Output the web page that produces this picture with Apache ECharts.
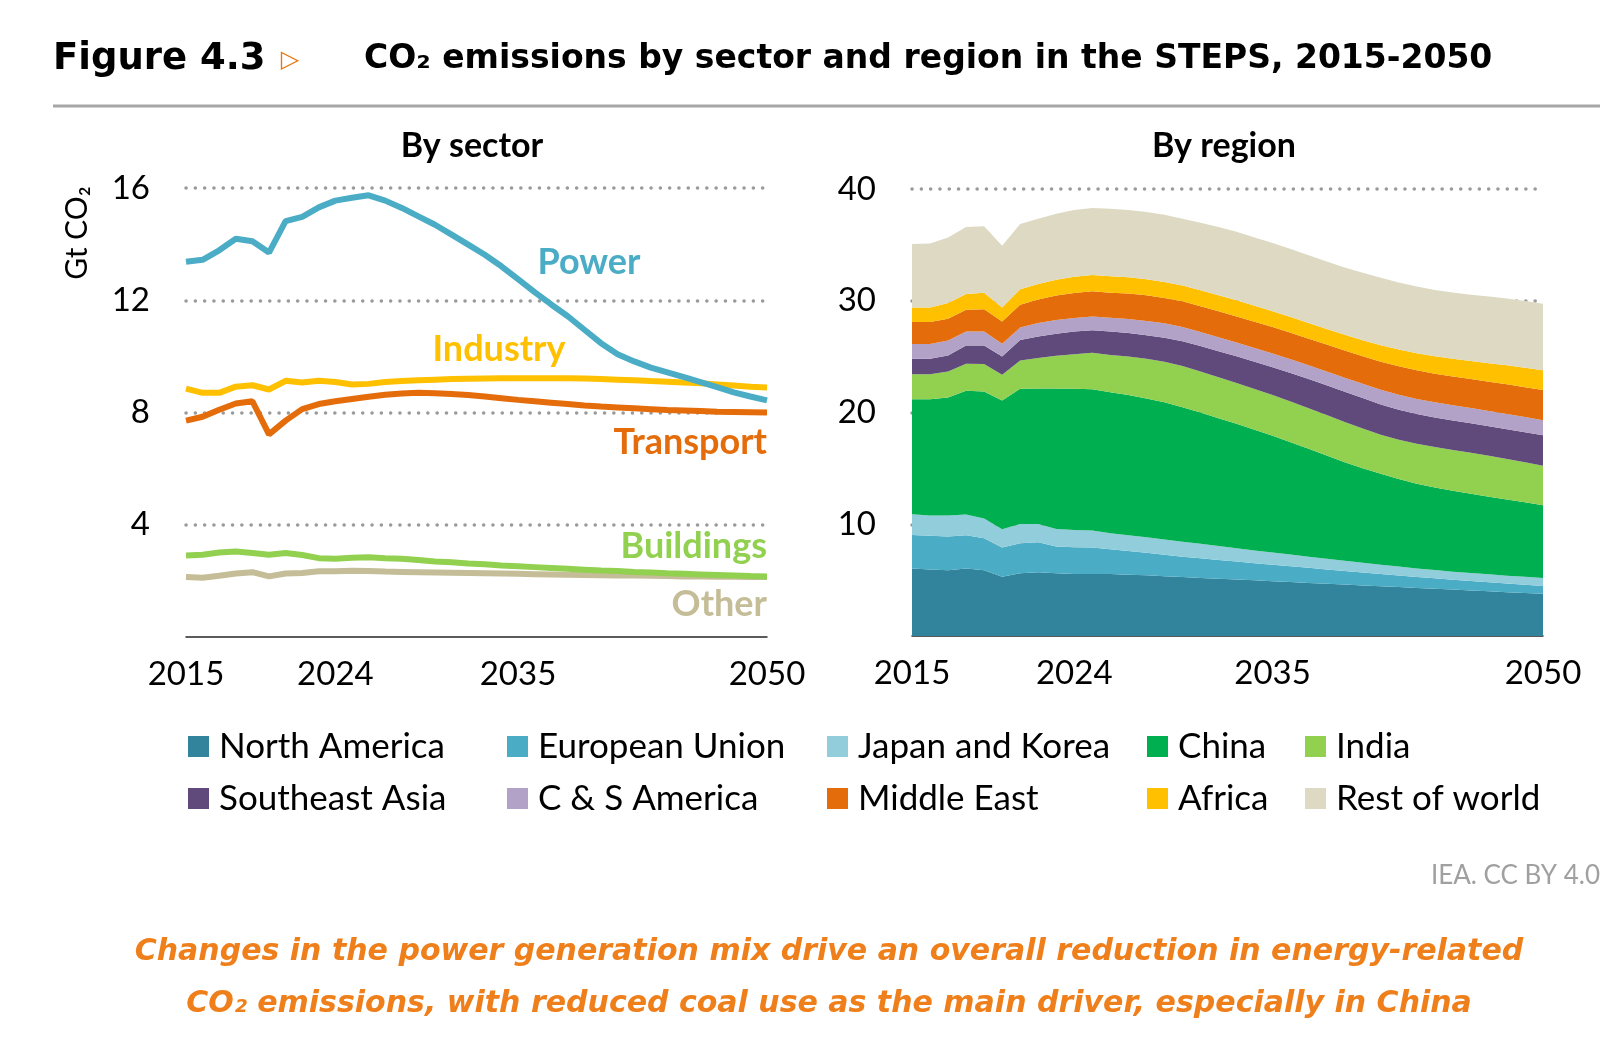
<!DOCTYPE html>
<html>
<head>
<meta charset="utf-8">
<title>CO2 emissions by sector and region in the STEPS, 2015-2050</title>
<script src="https://cdn.jsdelivr.net/npm/echarts@6/dist/echarts.min.js"></script>
<style>
  html, body { margin: 0; padding: 0; background: #fff; }
  #chart { width: 1600px; height: 1046px; }
</style>
</head>
<body>
<div id="chart"></div>
<script>
// categories
var years = ['2015', '2016', '2017', '2018', '2019', '2020', '2021', '2022', '2023', '2024',
  '2025', '2026', '2027', '2028', '2029', '2030', '2031', '2032', '2033', '2034',
  '2035', '2036', '2037', '2038', '2039', '2040', '2041', '2042', '2043', '2044',
  '2045', '2046', '2047', '2048', '2049', '2050'];
var shownYears = ['2015', '2024', '2035', '2050'];

// by sector, Gt CO2
var power = [13.37, 13.44, 13.78, 14.19, 14.10, 13.70, 14.82, 14.97, 15.31, 15.55,
  15.65, 15.74, 15.55, 15.29, 14.99, 14.69, 14.34, 13.98, 13.62, 13.21,
  12.75, 12.29, 11.85, 11.43, 10.95, 10.47, 10.08, 9.82, 9.60, 9.43,
  9.26, 9.08, 8.90, 8.72, 8.57, 8.43];
var industry = [8.85, 8.70, 8.70, 8.92, 8.97, 8.82, 9.13, 9.07, 9.13, 9.09,
  9.00, 9.02, 9.09, 9.12, 9.15, 9.17, 9.19, 9.20, 9.21, 9.22,
  9.22, 9.22, 9.22, 9.22, 9.21, 9.19, 9.17, 9.15, 9.12, 9.10,
  9.07, 9.04, 9.00, 8.96, 8.92, 8.89];
var transport = [7.71, 7.85, 8.10, 8.32, 8.40, 7.22, 7.71, 8.12, 8.30, 8.40,
  8.48, 8.56, 8.63, 8.68, 8.70, 8.69, 8.66, 8.62, 8.57, 8.51,
  8.45, 8.40, 8.35, 8.30, 8.25, 8.21, 8.18, 8.15, 8.12, 8.09,
  8.07, 8.05, 8.03, 8.02, 8.01, 8.00];
var buildings = [2.90, 2.93, 3.01, 3.05, 2.99, 2.93, 2.99, 2.92, 2.81, 2.79,
  2.82, 2.84, 2.81, 2.79, 2.74, 2.69, 2.66, 2.62, 2.59, 2.55,
  2.52, 2.49, 2.46, 2.43, 2.40, 2.37, 2.35, 2.32, 2.30, 2.27,
  2.25, 2.23, 2.21, 2.19, 2.17, 2.16];
var other = [2.14, 2.11, 2.18, 2.26, 2.31, 2.16, 2.26, 2.28, 2.34, 2.34,
  2.36, 2.35, 2.33, 2.32, 2.31, 2.30, 2.29, 2.28, 2.27, 2.26,
  2.25, 2.24, 2.23, 2.22, 2.21, 2.20, 2.19, 2.19, 2.18, 2.17,
  2.16, 2.16, 2.15, 2.15, 2.14, 2.14];

// by region, Gt CO2 (stacked)
var northAmerica = [6.03, 5.94, 5.88, 6.03, 5.88, 5.31, 5.61, 5.70, 5.61, 5.55,
  5.55, 5.55, 5.49, 5.43, 5.34, 5.28, 5.20, 5.12, 5.05, 4.98,
  4.90, 4.83, 4.75, 4.68, 4.60, 4.52, 4.45, 4.38, 4.30, 4.23,
  4.15, 4.08, 4.00, 3.92, 3.85, 3.77];
var europeanUnion = [3.01, 3.02, 3.02, 2.98, 2.87, 2.60, 2.69, 2.69, 2.39, 2.39,
  2.36, 2.21, 2.12, 2.03, 1.94, 1.82, 1.75, 1.69, 1.61, 1.54,
  1.48, 1.41, 1.35, 1.28, 1.22, 1.16, 1.10, 1.04, 0.99, 0.94,
  0.89, 0.85, 0.81, 0.77, 0.73, 0.70];
var japanKorea = [1.86, 1.82, 1.88, 1.86, 1.76, 1.64, 1.73, 1.64, 1.58, 1.55,
  1.52, 1.43, 1.40, 1.38, 1.36, 1.34, 1.30, 1.24, 1.19, 1.14,
  1.10, 1.05, 1.00, 0.96, 0.92, 0.87, 0.83, 0.79, 0.76, 0.74,
  0.72, 0.71, 0.71, 0.71, 0.72, 0.73];
var china = [10.29, 10.41, 10.56, 11.07, 11.37, 11.52, 12.09, 12.12, 12.57, 12.63,
  12.66, 12.62, 12.55, 12.42, 12.27, 12.02, 11.75, 11.44, 11.14, 10.79,
  10.43, 10.05, 9.65, 9.23, 8.81, 8.46, 8.14, 7.84, 7.58, 7.37,
  7.23, 7.09, 6.94, 6.81, 6.66, 6.50];
var india = [2.24, 2.24, 2.33, 2.42, 2.45, 2.30, 2.54, 2.72, 2.92, 3.10,
  3.25, 3.34, 3.46, 3.56, 3.64, 3.70, 3.68, 3.66, 3.65, 3.65,
  3.65, 3.64, 3.63, 3.62, 3.60, 3.56, 3.50, 3.52, 3.58, 3.63,
  3.66, 3.67, 3.66, 3.62, 3.58, 3.54];
var southeastAsia = [1.38, 1.38, 1.43, 1.64, 1.67, 1.64, 1.82, 1.94, 1.97, 2.03,
  2.03, 2.09, 2.09, 2.09, 2.15, 2.22, 2.27, 2.33, 2.39, 2.45,
  2.50, 2.56, 2.62, 2.67, 2.70, 2.72, 2.70, 2.68, 2.66, 2.65,
  2.64, 2.64, 2.66, 2.68, 2.70, 2.72];
var csAmerica = [1.31, 1.31, 1.35, 1.25, 1.25, 1.14, 1.13, 1.19, 1.23, 1.20,
  1.23, 1.23, 1.26, 1.28, 1.28, 1.28, 1.26, 1.25, 1.24, 1.23,
  1.22, 1.22, 1.22, 1.23, 1.25, 1.28, 1.31, 1.33, 1.34, 1.35,
  1.36, 1.36, 1.36, 1.35, 1.35, 1.35];
var middleEast = [1.97, 1.97, 1.94, 1.94, 2.00, 2.00, 2.03, 2.12, 2.21, 2.24,
  2.24, 2.24, 2.27, 2.30, 2.26, 2.30, 2.30, 2.32, 2.33, 2.35,
  2.37, 2.38, 2.39, 2.41, 2.44, 2.47, 2.52, 2.56, 2.57, 2.56,
  2.57, 2.59, 2.62, 2.66, 2.68, 2.70];
var africa = [1.31, 1.31, 1.40, 1.41, 1.47, 1.25, 1.40, 1.37, 1.40, 1.46,
  1.46, 1.49, 1.46, 1.43, 1.43, 1.40, 1.44, 1.45, 1.44, 1.42,
  1.40, 1.40, 1.40, 1.40, 1.41, 1.43, 1.47, 1.50, 1.53, 1.56,
  1.59, 1.62, 1.65, 1.70, 1.74, 1.78];
var restOfWorld = [5.67, 5.73, 5.88, 6.00, 5.94, 5.53, 5.83, 5.85, 5.91, 5.97,
  6.00, 6.03, 6.03, 6.03, 6.03, 5.98, 6.02, 6.10, 6.13, 6.12,
  6.11, 6.09, 6.06, 6.03, 6.03, 6.04, 6.03, 5.99, 5.96, 5.93,
  5.92, 5.93, 5.96, 5.98, 5.96, 5.95];

var sectorNames = ['Power', 'Industry', 'Transport', 'Buildings', 'Other'];
var sectorData = [power, industry, transport, buildings, other];
var sectorColors = ['#4bacc6', '#ffc000', '#e46c0a', '#92d050', '#c4bd97'];

var regionNames = ['North America', 'European Union', 'Japan and Korea', 'China', 'India',
  'Southeast Asia', 'C & S America', 'Middle East', 'Africa', 'Rest of world'];
var regionData = [northAmerica, europeanUnion, japanKorea, china, india,
  southeastAsia, csAmerica, middleEast, africa, restOfWorld];
var regionColors = ['#31849b', '#4bacc6', '#92cddc', '#00b050', '#92d050',
  '#604a7b', '#b3a2c7', '#e46c0a', '#ffc000', '#ddd9c3'];

var FONT = 'Lato, "Noto Sans", "DejaVu Sans", sans-serif';
var WIDE = '"DejaVu Sans", Lato, sans-serif';
var legendLeft = [188, 507, 827, 1147, 1305];
var legendTop = [729, 781];

var chart = echarts.init(document.getElementById('chart'), null, { renderer: 'canvas' });

function xAxisFor(gridIndex) {
  return {
    type: 'category',
    gridIndex: gridIndex,
    data: years,
    boundaryGap: false,
    axisLine: { show: true, lineStyle: { color: '#262626', width: 1.5 } },
    axisTick: { show: false },
    axisLabel: {
      interval: function (idx, val) { return shownYears.indexOf(val) >= 0; },
      margin: 21,
      fontSize: 33,
      fontFamily: FONT,
      color: '#000'
    },
    splitLine: { show: false }
  };
}

function yAxisFor(gridIndex, max, step) {
  return {
    type: 'value',
    gridIndex: gridIndex,
    min: 0,
    max: max,
    interval: step,
    axisLine: { show: false },
    axisTick: { show: false },
    axisLabel: {
      margin: 36,
      fontSize: 33,
      fontFamily: FONT,
      color: '#000',
      formatter: function (v) { return v === 0 ? '' : String(v); }
    },
    splitLine: {
      show: true,
      showMinLine: false,
      lineStyle: { color: '#9a9a9a', width: 3.5, type: [0.1, 9.2], cap: 'round' }
    }
  };
}

var series = [];
sectorNames.forEach(function (name, i) {
  series.push({
    name: name,
    type: 'line',
    xAxisIndex: 0,
    yAxisIndex: 0,
    data: sectorData[i],
    symbol: 'none',
    smooth: false,
    lineStyle: { color: sectorColors[i], width: 6 },
    itemStyle: { color: sectorColors[i] },
    z: 3 + (sectorNames.length - i)
  });
});
regionNames.forEach(function (name, i) {
  series.push({
    name: name,
    type: 'line',
    xAxisIndex: 1,
    yAxisIndex: 1,
    stack: 'region',
    data: regionData[i],
    symbol: 'none',
    lineStyle: { width: 0 },
    itemStyle: { color: regionColors[i] },
    areaStyle: { color: regionColors[i], opacity: 1 }
  });
});

var legends = regionNames.map(function (name, i) {
  return {
    data: [name],
    left: legendLeft[i % 5],
    top: legendTop[Math.floor(i / 5)],
    padding: 0,
    icon: 'rect',
    itemWidth: 21,
    itemHeight: 21,
    selectedMode: false,
    textStyle: { fontSize: 35, fontFamily: FONT, color: '#000', padding: [0, 0, 0, 5] }
  };
});

function txt(text, x, y, font, fill, align, rotation) {
  return {
    type: 'text',
    x: x,
    y: y,
    rotation: rotation || 0,
    style: { text: text, font: font, fill: fill, align: align || 'center', verticalAlign: 'middle' }
  };
}

var graphics = [
  txt('Figure 4.3', 53, 59, 'bold 37px ' + WIDE, '#000', 'left'),
  txt('\u25B7', 290, 61, 'bold 24px "DejaVu Sans"', '#e8760c', 'center'),
  txt('CO\u2082 emissions by sector and region in the STEPS, 2015-2050', 364, 59, 'bold 33px ' + WIDE, '#000', 'left'),
  { type: 'line', shape: { x1: 53, y1: 106, x2: 1600, y2: 106 }, style: { stroke: '#a6a6a6', lineWidth: 3 } },
  txt('By sector', 472, 146, 'bold 34px ' + FONT, '#000', 'center'),
  txt('By region', 1224, 146, 'bold 34px ' + FONT, '#000', 'center'),
  txt('Gt CO\u2082', 77, 233, '30px ' + FONT, '#000', 'center', Math.PI / 2),
  txt('Power', 589, 262, 'bold 36px ' + FONT, sectorColors[0], 'center'),
  txt('Industry', 499, 349, 'bold 36px ' + FONT, sectorColors[1], 'center'),
  txt('Transport', 767, 442, 'bold 36px ' + FONT, sectorColors[2], 'right'),
  txt('Buildings', 767, 546, 'bold 36px ' + FONT, sectorColors[3], 'right'),
  txt('Other', 767, 604, 'bold 36px ' + FONT, sectorColors[4], 'right'),
  txt('IEA. CC BY 4.0', 1600, 876, '26px ' + FONT, '#a0a0a0', 'right'),
  txt('Changes in the power generation mix drive an overall reduction in energy-related', 829, 952,
    'italic bold 30px ' + WIDE, '#ef7f1a', 'center'),
  txt('CO\u2082 emissions, with reduced coal use as the main driver, especially in China', 829, 1004,
    'italic bold 30px ' + WIDE, '#ef7f1a', 'center')
];

var option = {
  backgroundColor: '#fff',
  animation: false,
  grid: [
    { left: 186, top: 188, width: 581, height: 449 },
    { left: 912, top: 189, width: 631, height: 447 }
  ],
  xAxis: [xAxisFor(0), xAxisFor(1)],
  yAxis: [yAxisFor(0, 16, 4), yAxisFor(1, 40, 10)],
  legend: legends,
  series: series,
  graphic: graphics
};

chart.setOption(option);
</script>
</body>
</html>
